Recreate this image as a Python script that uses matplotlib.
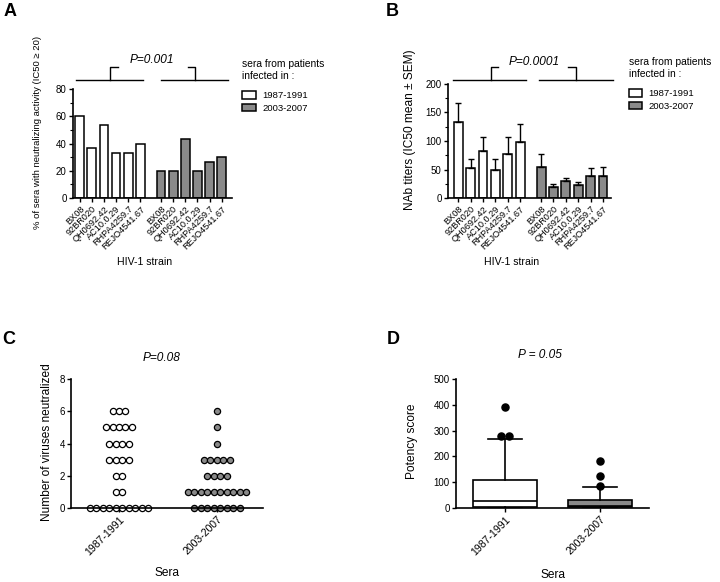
import numpy as np
import matplotlib
matplotlib.use("Agg")
import matplotlib.pyplot as plt
from matplotlib.transforms import blended_transform_factory

plt.rcParams['font.family'] = ['Liberation Sans', 'DejaVu Sans']

# ---- data ----
strains = ["BX08", "92BR020", "QH0692.42", "AC10.0.29", "RHPA4259.7", "REJO4541.67"]
periods = ["1987-1991", "2003-2007"]

# A: % of sera with neutralizing activity
pct_old = [60, 36.7, 53.3, 33.3, 33.3, 40]
pct_new = [20, 20, 43.3, 20, 26.7, 30]

# B: NAb titers mean and SEM
nab_old = [133, 53, 83, 49, 78, 99]
sem_old = [33, 16, 24, 19, 29, 30]
nab_new = [54, 19, 29, 23, 39, 38]
sem_new = [23, 6, 6, 5, 13, 17]

# C: number of viruses neutralized (count of sera per level)
levels = [0, 1, 2, 3, 4, 5, 6]
count_old = [10, 2, 2, 4, 4, 5, 3]
count_new = [8, 10, 4, 5, 1, 1, 1]

# D: potency score box summaries
box_old = dict(whislo=0, q1=4, med=27, q3=108, whishi=267, fliers=[279, 279, 391])
box_new = dict(whislo=0, q1=2, med=9, q3=31, whishi=82, fliers=[85, 124, 182])

GREY = "#8a8a8a"
W, H = 720, 582
LEG_TITLE = "sera from patients\ninfected in :"


def fig_rect(left, right, top, bottom):
    return [left / W, 1 - bottom / H, (right - left) / W, (bottom - top) / H]


def style(ax):
    for s in ["top", "right"]:
        ax.spines[s].set_visible(False)
    for s in ["left", "bottom"]:
        ax.spines[s].set_linewidth(1.2)
    ax.tick_params(direction="out", length=3, width=1, labelsize=7, pad=1.5)
    ax.tick_params(which="minor", direction="out", length=2, width=0.8)


def bracket(ax, spans, y_line, y_top, arms):
    tr = blended_transform_factory(ax.transData, ax.transAxes)
    for (a, b), (xv, arm) in zip(spans, arms):
        ax.plot([a, b], [y_line, y_line], color="black", lw=1, transform=tr, clip_on=False)
        ax.plot([xv, xv, xv + arm], [y_line, y_top, y_top], color="black", lw=1,
                transform=tr, clip_on=False)


def period_legend(ax, handles, px, py_title, py_entries, hl):
    fig.text(px / W, 1 - py_title / H, LEG_TITLE, fontsize=7.4, ha="left", va="top",
             linespacing=1.3)
    ax.legend(handles, periods, loc="upper left", bbox_to_anchor=(px / W, 1 - py_entries / H),
              bbox_transform=fig.transFigure, frameon=False, fontsize=6.8,
              handlelength=hl, handleheight=0.85, handletextpad=0.7, labelspacing=0.4,
              borderpad=0, borderaxespad=0)


fig = plt.figure(figsize=(7.2, 5.82), dpi=100)

x1 = np.arange(6)
x2 = np.arange(6) + 6.7
xall = np.concatenate([x1, x2])
bw = 0.72

# ---- A ----
axA = fig.add_axes(fig_rect(73, 232, 89, 198))
style(axA)
bA1 = axA.bar(x1, pct_old, width=bw, color="white", edgecolor="black", lw=1.1)
bA2 = axA.bar(x2, pct_new, width=bw, color=GREY, edgecolor="black", lw=1.1)
axA.set_ylim(0, 80)
axA.set_yticks([0, 20, 40, 60, 80])
axA.set_yticks(np.arange(0, 81, 10), minor=True)
axA.set_xlim(-0.55, 12.55)
axA.set_xticks(xall)
axA.set_xticklabels(strains * 2, rotation=45, ha="right", rotation_mode="anchor", fontsize=6.6)
axA.set_ylabel("% of sera with neutralizing activity (IC50 \u2265 20)", fontsize=6.8)
axA.yaxis.set_label_coords(-0.226, 0.605)
axA.yaxis.label.set_va("center")
axA.set_xlabel("HIV-1 strain", fontsize=7.6)
axA.xaxis.set_label_coords(0.453, -0.587)
axA.xaxis.label.set_va("center")
bracket(axA, [(-0.3, 5.25), (6.7, 12.25)], 1.083, 1.20, [(2.5, 0.65), (9.5, -0.6)])
axA.text(0.497, 1.266, "P=0.001", transform=axA.transAxes, ha="center", va="center",
         fontsize=8.6, fontstyle="italic")
period_legend(axA, [bA1, bA2], 242, 59, 91, 1.45)

# ---- B ----
axB = fig.add_axes(fig_rect(448, 611, 84, 198))
style(axB)
bB1 = axB.bar(x1, nab_old, width=bw, color="white", edgecolor="black", lw=1.1)
bB2 = axB.bar(x2, nab_new, width=bw, color=GREY, edgecolor="black", lw=1.1)
axB.errorbar(x1, nab_old, yerr=[np.zeros(6), sem_old], fmt="none", ecolor="black",
             elinewidth=1, capsize=2.2, capthick=1)
axB.errorbar(x2, nab_new, yerr=[np.zeros(6), sem_new], fmt="none", ecolor="black",
             elinewidth=1, capsize=2.2, capthick=1)
axB.set_ylim(0, 200)
axB.set_yticks([0, 50, 100, 150, 200])
axB.set_yticks(np.arange(0, 201, 25), minor=True)
axB.set_xlim(-0.83, 12.35)
axB.set_xticks(xall)
axB.set_xticklabels(strains * 2, rotation=45, ha="right", rotation_mode="anchor", fontsize=6.6)
axB.set_ylabel("NAb titers (IC50 mean \u00b1 SEM)", fontsize=8.6)
axB.yaxis.set_label_coords(-0.233, 0.596)
axB.yaxis.label.set_va("center")
axB.set_xlabel("HIV-1 strain", fontsize=7.6)
axB.xaxis.set_label_coords(0.393, -0.561)
axB.xaxis.label.set_va("center")
bracket(axB, [(-0.43, 5.45), (6.5, 12.5)], 1.035, 1.15, [(2.64, 0.56), (9.55, -0.7)])
axB.text(0.528, 1.193, "P=0.0001", transform=axB.transAxes, ha="center", va="center",
         fontsize=8.6, fontstyle="italic")
period_legend(axB, [bB1, bB2], 629, 57, 89, 1.35)

# ---- C ----
axC = fig.add_axes(fig_rect(71, 263, 379, 508))
style(axC)
dx = 0.066
for gi, (counts, fc) in enumerate([(count_old, "white"), (count_new, GREY)]):
    xs, ys = [], []
    for lvl, n in zip(levels, counts):
        for i in range(n):
            xs.append(gi + (i - (n - 1) / 2) * dx)
            ys.append(lvl)
    axC.scatter(xs, ys, s=20, facecolor=fc, edgecolor="black", linewidth=0.9, clip_on=False)
axC.set_ylim(0, 8)
axC.set_yticks([0, 2, 4, 6, 8])
axC.set_xlim(-0.49, 1.47)
axC.set_xticks([0, 1])
axC.set_xticklabels(periods, rotation=45, ha="right", rotation_mode="anchor", fontsize=7.6)
axC.set_ylabel("Number of viruses neutralized", fontsize=8.6)
axC.yaxis.set_label_coords(-0.125, 0.51)
axC.yaxis.label.set_va("center")
axC.set_xlabel("Sera", fontsize=8.6)
axC.xaxis.set_label_coords(0.5, -0.504)
axC.xaxis.label.set_va("center")
axC.text(0.474, 1.163, "P=0.08", transform=axC.transAxes, ha="center", va="center",
         fontsize=8.6, fontstyle="italic")

# ---- D ----
axD = fig.add_axes(fig_rect(456, 649, 379, 508))
style(axD)
stats = []
for b in [box_old, box_new]:
    st = dict(b)
    st["fliers"] = []
    stats.append(st)
lw = 1.2
bp = axD.bxp(stats, positions=[0, 1], widths=0.68, capwidths=0.36, patch_artist=True,
             showfliers=False,
             boxprops=dict(linewidth=lw, edgecolor="black"),
             medianprops=dict(color="black", linewidth=lw),
             whiskerprops=dict(color="black", linewidth=lw),
             capprops=dict(color="black", linewidth=lw))
bp["boxes"][0].set_facecolor("white")
bp["boxes"][1].set_facecolor(GREY)
for gi, b in enumerate([box_old, box_new]):
    vals = b["fliers"]
    for v in sorted(set(vals)):
        n = vals.count(v)
        offs = [(i - (n - 1) / 2) * 0.09 for i in range(n)]
        axD.scatter([gi + o for o in offs], [v] * n, s=26, color="black", zorder=3)
axD.set_ylim(0, 500)
axD.set_yticks([0, 100, 200, 300, 400, 500])
axD.set_xlim(-0.52, 1.52)
axD.set_xticks([0, 1])
axD.set_xticklabels(periods, rotation=45, ha="right", rotation_mode="anchor", fontsize=7.6)
axD.set_ylabel("Potency score", fontsize=8.6)
axD.yaxis.set_label_coords(-0.228, 0.52)
axD.yaxis.label.set_va("center")
axD.set_xlabel("Sera", fontsize=8.6)
axD.xaxis.set_label_coords(0.503, -0.519)
axD.xaxis.label.set_va("center")
axD.text(0.435, 1.186, "P = 0.05", transform=axD.transAxes, ha="center", va="center",
         fontsize=8.6, fontstyle="italic")

# panel letters
for lab, px, py in [("A", 10, 12), ("B", 392, 12), ("C", 9, 340), ("D", 393, 340)]:
    fig.text(px / W, 1 - py / H, lab, fontsize=13, fontweight="bold", ha="center", va="center")

fig.savefig("out.png", dpi=100)
